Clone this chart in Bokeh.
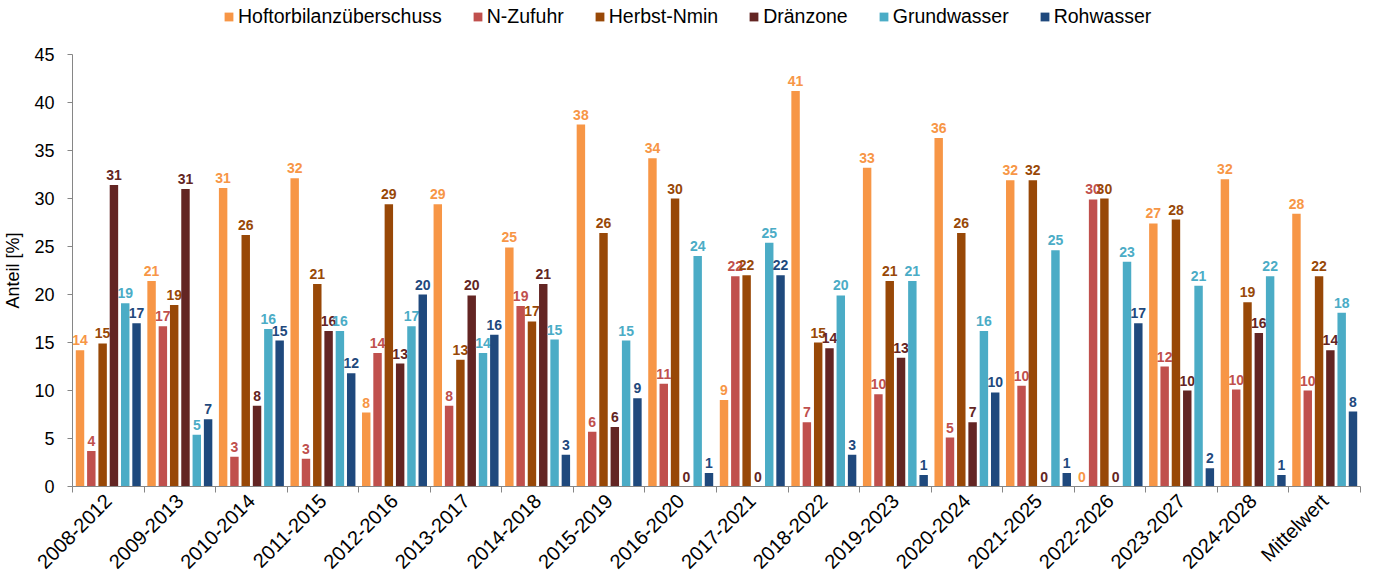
from bokeh.plotting import figure
from bokeh.layouts import column
from bokeh.models import (Legend, LegendItem, FixedTicker, Range1d, ColumnDataSource)
from bokeh.transform import dodge
from bokeh.embed import file_html
from bokeh.resources import INLINE
from bokeh.core.properties import value

categories = ["2008-2012", "2009-2013", "2010-2014", "2011-2015", "2012-2016", "2013-2017",
              "2014-2018", "2015-2019", "2016-2020", "2017-2021", "2018-2022", "2019-2023",
              "2020-2024", "2021-2025", "2022-2026", "2023-2027", "2024-2028", "Mittelwert"]

series_names = ["Hoftorbilanzüberschuss", "N-Zufuhr", "Herbst-Nmin", "Dränzone",
                "Grundwasser", "Rohwasser"]
colors = ["#F79646", "#C0504D", "#984807", "#632523", "#4BACC6", "#1F497D"]

hoftorbilanz = [14.2, 21.4, 31.1, 32.1, 7.7, 29.4, 24.9, 37.7, 34.2, 9.0, 41.2, 33.2, 36.3, 31.9, 0.0, 27.4, 32.0, 28.4]
n_zufuhr = [3.7, 16.7, 3.1, 2.9, 13.9, 8.4, 18.8, 5.7, 10.7, 21.9, 6.7, 9.6, 5.1, 10.5, 29.9, 12.5, 10.1, 10.0]
herbst_nmin = [14.9, 18.9, 26.2, 21.1, 29.4, 13.2, 17.2, 26.4, 30.0, 22.0, 15.0, 21.4, 26.4, 31.9, 30.0, 27.8, 19.2, 21.9]
draenzone = [31.4, 31.0, 8.4, 16.2, 12.8, 19.9, 21.1, 6.2, 0.0, 0.0, 14.4, 13.4, 6.7, 0.0, 0.0, 10.0, 16.0, 14.2]
grundwasser = [19.1, 5.4, 16.4, 16.2, 16.7, 13.9, 15.3, 15.2, 24.0, 25.4, 19.9, 21.4, 16.2, 24.6, 23.4, 20.9, 21.9, 18.1]
rohwasser = [17.0, 7.0, 15.2, 11.8, 20.0, 15.8, 3.3, 9.2, 1.4, 22.0, 3.3, 1.2, 9.8, 1.4, 17.0, 1.9, 1.2, 7.8]

y_ticks = [0, 5, 10, 15, 20, 25, 30, 35, 40, 45]

series = [hoftorbilanz, n_zufuhr, herbst_nmin, draenzone, grundwasser, rohwasser]
offsets = [-0.395, -0.237, -0.079, 0.079, 0.237, 0.395]
bar_w = 0.118

FONT = "Liberation Sans"

# ---- legend strip (separate small figure so the legend can sit freely above the chart)
lf = figure(width=1363, height=46, output_backend="svg", toolbar_location=None,
            x_range=Range1d(0, 1), y_range=Range1d(0, 1),
            min_border_left=64, min_border_right=3, min_border_top=0, min_border_bottom=0)
lf.axis.visible = False
lf.xgrid.visible = False
lf.ygrid.visible = False
lf.outline_line_color = None

# ---- main chart
p = figure(width=1363, height=537, output_backend="svg", toolbar_location=None,
           x_range=Range1d(-0.5, len(categories) - 0.5), y_range=Range1d(0, 45),
           min_border_left=64, min_border_right=3, min_border_top=8, min_border_bottom=96)

xs = list(range(len(categories)))
items = []
for name, vals, col, off in zip(series_names, series, colors, offsets):
    src = ColumnDataSource(dict(x=xs, y=vals, lab=[f"{v:.0f}" for v in vals]))
    p.vbar(x=dodge("x", off), top="y", width=bar_w, source=src,
           fill_color=col, line_color=None)
    p.text(x=dodge("x", off), y="y", text="lab", source=src,
           text_color=col, text_font=value(FONT), text_font_style="bold",
           text_font_size="14px", text_align="center", text_baseline="alphabetic",
           y_offset=-10)
    # legend proxy (outside the strip's visible range, zero height)
    lr = lf.vbar(x=[-5], top=[0], width=0.1, fill_color=col, line_color=None)
    items.append(LegendItem(label=name, renderers=[lr]))

legend = Legend(items=items, orientation="horizontal", location=(151, 18),
                glyph_width=11, glyph_height=11, label_standoff=4, spacing=30,
                padding=0, margin=0, border_line_color=None, background_fill_alpha=0,
                label_text_font_size="19.5px", label_text_font=FONT, label_height=18,
                label_text_baseline="middle", label_text_color="black")
lf.add_layout(legend, "center")

p.xgrid.visible = False
p.ygrid.visible = False
p.outline_line_color = None

# y axis
p.yaxis.ticker = FixedTicker(ticks=y_ticks)
p.yaxis.axis_label = "Anteil [%]"
p.yaxis.axis_label_text_font = FONT
p.yaxis.axis_label_text_font_style = "normal"
p.yaxis.axis_label_text_font_size = "18px"
p.yaxis.axis_label_text_color = "black"
p.yaxis.axis_label_standoff = 8
p.yaxis.major_label_text_font = FONT
p.yaxis.major_label_text_font_size = "18px"
p.yaxis.major_label_text_color = "black"
p.yaxis.major_label_standoff = 13
p.yaxis.major_tick_out = 5
p.yaxis.major_tick_in = 0
p.yaxis.minor_tick_line_color = None
p.yaxis.axis_line_color = "#868686"
p.yaxis.major_tick_line_color = "#868686"

# x axis: labels at category centres, ticks at category boundaries
p.xaxis.ticker = FixedTicker(ticks=xs, minor_ticks=[i - 0.5 for i in range(len(categories) + 1)])
p.xaxis.major_label_overrides = {i: c for i, c in zip(xs, categories)}
p.xaxis.major_label_orientation = 0.785398
p.xaxis.major_label_text_font = FONT
p.xaxis.major_label_text_font_size = "20px"
p.xaxis.major_label_text_color = "black"
p.xaxis.major_label_standoff = 5
p.xaxis.major_tick_line_color = None
p.xaxis.major_tick_out = 0
p.xaxis.major_tick_in = 0
p.xaxis.minor_tick_out = 6
p.xaxis.minor_tick_in = 0
p.xaxis.minor_tick_line_color = "#868686"
p.xaxis.axis_line_color = "#868686"

layout = column(lf, p, spacing=0)
open("out.html", "w").write(file_html(layout, INLINE))
